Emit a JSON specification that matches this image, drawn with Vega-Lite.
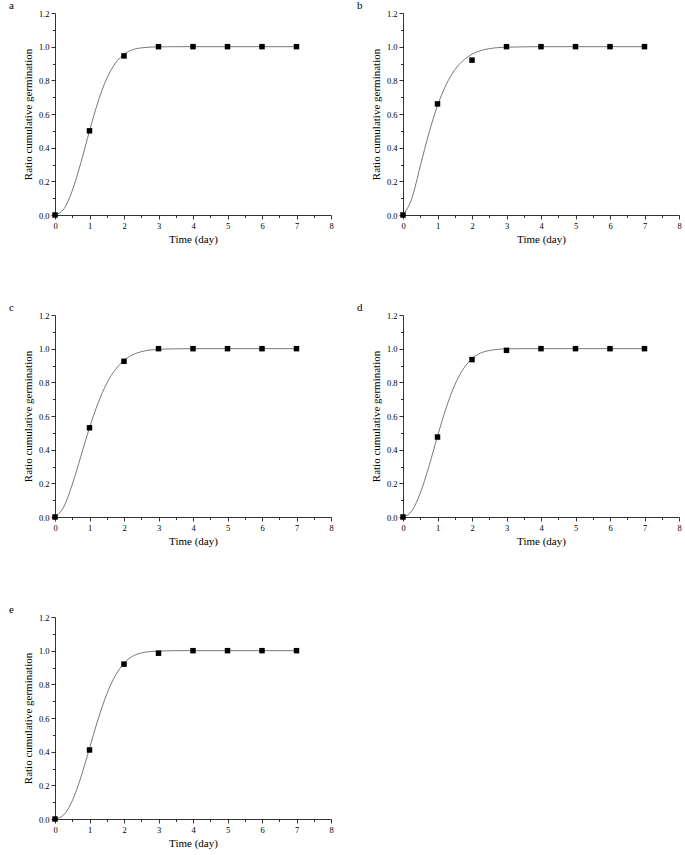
{
  "$schema": "https://vega.github.io/schema/vega-lite/v6.json",
  "padding": {"left": 9, "top": 0, "right": 4, "bottom": 0},
  "background": "white",
  "datasets": {
    "points": [
      {"panel": "a", "day": 0, "ratio": 0}, {"panel": "a", "day": 1, "ratio": 0.5}, {"panel": "a", "day": 2, "ratio": 0.945}, {"panel": "a", "day": 3, "ratio": 1}, {"panel": "a", "day": 4, "ratio": 1}, {"panel": "a", "day": 5, "ratio": 1}, {"panel": "a", "day": 6, "ratio": 1}, {"panel": "a", "day": 7, "ratio": 1},
      {"panel": "b", "day": 0, "ratio": 0}, {"panel": "b", "day": 1, "ratio": 0.66}, {"panel": "b", "day": 2, "ratio": 0.92}, {"panel": "b", "day": 3, "ratio": 1}, {"panel": "b", "day": 4, "ratio": 1}, {"panel": "b", "day": 5, "ratio": 1}, {"panel": "b", "day": 6, "ratio": 1}, {"panel": "b", "day": 7, "ratio": 1},
      {"panel": "c", "day": 0, "ratio": 0}, {"panel": "c", "day": 1, "ratio": 0.53}, {"panel": "c", "day": 2, "ratio": 0.925}, {"panel": "c", "day": 3, "ratio": 1}, {"panel": "c", "day": 4, "ratio": 1}, {"panel": "c", "day": 5, "ratio": 1}, {"panel": "c", "day": 6, "ratio": 1}, {"panel": "c", "day": 7, "ratio": 1},
      {"panel": "d", "day": 0, "ratio": 0}, {"panel": "d", "day": 1, "ratio": 0.475}, {"panel": "d", "day": 2, "ratio": 0.935}, {"panel": "d", "day": 3, "ratio": 0.99}, {"panel": "d", "day": 4, "ratio": 1}, {"panel": "d", "day": 5, "ratio": 1}, {"panel": "d", "day": 6, "ratio": 1}, {"panel": "d", "day": 7, "ratio": 1},
      {"panel": "e", "day": 0, "ratio": 0}, {"panel": "e", "day": 1, "ratio": 0.41}, {"panel": "e", "day": 2, "ratio": 0.92}, {"panel": "e", "day": 3, "ratio": 0.985}, {"panel": "e", "day": 4, "ratio": 1}, {"panel": "e", "day": 5, "ratio": 1}, {"panel": "e", "day": 6, "ratio": 1}, {"panel": "e", "day": 7, "ratio": 1}
    ],
    "curve": [
      {"panel": "a", "t": 0, "ratio": 0}, {"panel": "a", "t": 0.25, "ratio": 0.034}, {"panel": "a", "t": 0.5, "ratio": 0.144}, {"panel": "a", "t": 0.75, "ratio": 0.311}, {"panel": "a", "t": 1, "ratio": 0.5}, {"panel": "a", "t": 1.25, "ratio": 0.674}, {"panel": "a", "t": 1.5, "ratio": 0.811}, {"panel": "a", "t": 1.75, "ratio": 0.902}, {"panel": "a", "t": 2, "ratio": 0.955}, {"panel": "a", "t": 2.5, "ratio": 0.993}, {"panel": "a", "t": 3, "ratio": 0.999}, {"panel": "a", "t": 3.5, "ratio": 1}, {"panel": "a", "t": 4, "ratio": 1}, {"panel": "a", "t": 5, "ratio": 1}, {"panel": "a", "t": 6, "ratio": 1}, {"panel": "a", "t": 7, "ratio": 1},
      {"panel": "b", "t": 0, "ratio": 0}, {"panel": "b", "t": 0.25, "ratio": 0.095}, {"panel": "b", "t": 0.5, "ratio": 0.29}, {"panel": "b", "t": 0.75, "ratio": 0.485}, {"panel": "b", "t": 1, "ratio": 0.65}, {"panel": "b", "t": 1.25, "ratio": 0.774}, {"panel": "b", "t": 1.5, "ratio": 0.862}, {"panel": "b", "t": 1.75, "ratio": 0.919}, {"panel": "b", "t": 2, "ratio": 0.955}, {"panel": "b", "t": 2.5, "ratio": 0.988}, {"panel": "b", "t": 3, "ratio": 0.997}, {"panel": "b", "t": 3.5, "ratio": 0.999}, {"panel": "b", "t": 4, "ratio": 1}, {"panel": "b", "t": 5, "ratio": 1}, {"panel": "b", "t": 6, "ratio": 1}, {"panel": "b", "t": 7, "ratio": 1},
      {"panel": "c", "t": 0, "ratio": 0}, {"panel": "c", "t": 0.25, "ratio": 0.059}, {"panel": "c", "t": 0.5, "ratio": 0.193}, {"panel": "c", "t": 0.75, "ratio": 0.361}, {"panel": "c", "t": 1, "ratio": 0.53}, {"panel": "c", "t": 1.25, "ratio": 0.678}, {"panel": "c", "t": 1.5, "ratio": 0.794}, {"panel": "c", "t": 1.75, "ratio": 0.876}, {"panel": "c", "t": 2, "ratio": 0.93}, {"panel": "c", "t": 2.5, "ratio": 0.982}, {"panel": "c", "t": 3, "ratio": 0.996}, {"panel": "c", "t": 3.5, "ratio": 0.999}, {"panel": "c", "t": 4, "ratio": 1}, {"panel": "c", "t": 5, "ratio": 1}, {"panel": "c", "t": 6, "ratio": 1}, {"panel": "c", "t": 7, "ratio": 1},
      {"panel": "d", "t": 0, "ratio": 0}, {"panel": "d", "t": 0.25, "ratio": 0.035}, {"panel": "d", "t": 0.5, "ratio": 0.142}, {"panel": "d", "t": 0.75, "ratio": 0.3}, {"panel": "d", "t": 1, "ratio": 0.48}, {"panel": "d", "t": 1.25, "ratio": 0.648}, {"panel": "d", "t": 1.5, "ratio": 0.784}, {"panel": "d", "t": 1.75, "ratio": 0.88}, {"panel": "d", "t": 2, "ratio": 0.94}, {"panel": "d", "t": 2.5, "ratio": 0.989}, {"panel": "d", "t": 3, "ratio": 0.999}, {"panel": "d", "t": 3.5, "ratio": 1}, {"panel": "d", "t": 4, "ratio": 1}, {"panel": "d", "t": 5, "ratio": 1}, {"panel": "d", "t": 6, "ratio": 1}, {"panel": "d", "t": 7, "ratio": 1},
      {"panel": "e", "t": 0, "ratio": 0}, {"panel": "e", "t": 0.25, "ratio": 0.024}, {"panel": "e", "t": 0.5, "ratio": 0.108}, {"panel": "e", "t": 0.75, "ratio": 0.248}, {"panel": "e", "t": 1, "ratio": 0.42}, {"panel": "e", "t": 1.25, "ratio": 0.593}, {"panel": "e", "t": 1.5, "ratio": 0.742}, {"panel": "e", "t": 1.75, "ratio": 0.853}, {"panel": "e", "t": 2, "ratio": 0.925}, {"panel": "e", "t": 2.5, "ratio": 0.986}, {"panel": "e", "t": 3, "ratio": 0.998}, {"panel": "e", "t": 3.5, "ratio": 1}, {"panel": "e", "t": 4, "ratio": 1}, {"panel": "e", "t": 5, "ratio": 1}, {"panel": "e", "t": 6, "ratio": 1}, {"panel": "e", "t": 7, "ratio": 1}
    ]
  },
  "bounds": "flush",
  "columns": 2,
  "spacing": {"row": 100, "column": 72},
  "concat": [
    {
      "title": "a", "width": 276, "height": 202,
      "layer": [
        {"data": {"name": "curve"}, "transform": [{"filter": "datum.panel === 'a'"}],
         "mark": {"type": "line", "interpolate": "monotone", "color": "#555555", "strokeWidth": 0.8},
         "encoding": {"x": {"field": "t", "type": "quantitative", "scale": {"domain": [0, 8], "nice": false}, "axis": {"title": "Time (day)", "tickCount": 40, "values": [0, 0.5, 1, 1.5, 2, 2.5, 3, 3.5, 4, 4.5, 5, 5.5, 6, 6.5, 7, 7.5, 8], "labelExpr": "datum.value % 1 === 0 ? format(datum.value, 'd') : ''", "tickSize": {"condition": {"test": "datum.value % 1 === 0", "value": 4}, "value": 2.5}}},
                      "y": {"field": "ratio", "type": "quantitative", "scale": {"domain": [0, 1.2], "nice": false}, "axis": {"title": "Ratio cumulative germination", "tickCount": 40, "values": [0, 0.1, 0.2, 0.3, 0.4, 0.5, 0.6, 0.7, 0.8, 0.9, 1, 1.1, 1.2], "labelExpr": "round(datum.value * 10) % 2 === 0 ? format(datum.value, '.1f') : ''", "tickSize": {"condition": {"test": "round(datum.value * 10) % 2 === 0", "value": 4}, "value": 2.5}}}}},
        {"data": {"name": "points"}, "transform": [{"filter": "datum.panel === 'a'"}],
         "mark": {"type": "square", "color": "black", "opacity": 1, "size": 30},
         "encoding": {"x": {"field": "day", "type": "quantitative"}, "y": {"field": "ratio", "type": "quantitative"}}}
      ]
    },
    {
      "title": "b", "width": 276, "height": 202,
      "layer": [
        {"data": {"name": "curve"}, "transform": [{"filter": "datum.panel === 'b'"}],
         "mark": {"type": "line", "interpolate": "monotone", "color": "#555555", "strokeWidth": 0.8},
         "encoding": {"x": {"field": "t", "type": "quantitative", "scale": {"domain": [0, 8], "nice": false}, "axis": {"title": "Time (day)", "tickCount": 40, "values": [0, 0.5, 1, 1.5, 2, 2.5, 3, 3.5, 4, 4.5, 5, 5.5, 6, 6.5, 7, 7.5, 8], "labelExpr": "datum.value % 1 === 0 ? format(datum.value, 'd') : ''", "tickSize": {"condition": {"test": "datum.value % 1 === 0", "value": 4}, "value": 2.5}}},
                      "y": {"field": "ratio", "type": "quantitative", "scale": {"domain": [0, 1.2], "nice": false}, "axis": {"title": "Ratio cumulative germination", "tickCount": 40, "values": [0, 0.1, 0.2, 0.3, 0.4, 0.5, 0.6, 0.7, 0.8, 0.9, 1, 1.1, 1.2], "labelExpr": "round(datum.value * 10) % 2 === 0 ? format(datum.value, '.1f') : ''", "tickSize": {"condition": {"test": "round(datum.value * 10) % 2 === 0", "value": 4}, "value": 2.5}}}}},
        {"data": {"name": "points"}, "transform": [{"filter": "datum.panel === 'b'"}],
         "mark": {"type": "square", "color": "black", "opacity": 1, "size": 30},
         "encoding": {"x": {"field": "day", "type": "quantitative"}, "y": {"field": "ratio", "type": "quantitative"}}}
      ]
    },
    {
      "title": "c", "width": 276, "height": 202,
      "layer": [
        {"data": {"name": "curve"}, "transform": [{"filter": "datum.panel === 'c'"}],
         "mark": {"type": "line", "interpolate": "monotone", "color": "#555555", "strokeWidth": 0.8},
         "encoding": {"x": {"field": "t", "type": "quantitative", "scale": {"domain": [0, 8], "nice": false}, "axis": {"title": "Time (day)", "tickCount": 40, "values": [0, 0.5, 1, 1.5, 2, 2.5, 3, 3.5, 4, 4.5, 5, 5.5, 6, 6.5, 7, 7.5, 8], "labelExpr": "datum.value % 1 === 0 ? format(datum.value, 'd') : ''", "tickSize": {"condition": {"test": "datum.value % 1 === 0", "value": 4}, "value": 2.5}}},
                      "y": {"field": "ratio", "type": "quantitative", "scale": {"domain": [0, 1.2], "nice": false}, "axis": {"title": "Ratio cumulative germination", "tickCount": 40, "values": [0, 0.1, 0.2, 0.3, 0.4, 0.5, 0.6, 0.7, 0.8, 0.9, 1, 1.1, 1.2], "labelExpr": "round(datum.value * 10) % 2 === 0 ? format(datum.value, '.1f') : ''", "tickSize": {"condition": {"test": "round(datum.value * 10) % 2 === 0", "value": 4}, "value": 2.5}}}}},
        {"data": {"name": "points"}, "transform": [{"filter": "datum.panel === 'c'"}],
         "mark": {"type": "square", "color": "black", "opacity": 1, "size": 30},
         "encoding": {"x": {"field": "day", "type": "quantitative"}, "y": {"field": "ratio", "type": "quantitative"}}}
      ]
    },
    {
      "title": "d", "width": 276, "height": 202,
      "layer": [
        {"data": {"name": "curve"}, "transform": [{"filter": "datum.panel === 'd'"}],
         "mark": {"type": "line", "interpolate": "monotone", "color": "#555555", "strokeWidth": 0.8},
         "encoding": {"x": {"field": "t", "type": "quantitative", "scale": {"domain": [0, 8], "nice": false}, "axis": {"title": "Time (day)", "tickCount": 40, "values": [0, 0.5, 1, 1.5, 2, 2.5, 3, 3.5, 4, 4.5, 5, 5.5, 6, 6.5, 7, 7.5, 8], "labelExpr": "datum.value % 1 === 0 ? format(datum.value, 'd') : ''", "tickSize": {"condition": {"test": "datum.value % 1 === 0", "value": 4}, "value": 2.5}}},
                      "y": {"field": "ratio", "type": "quantitative", "scale": {"domain": [0, 1.2], "nice": false}, "axis": {"title": "Ratio cumulative germination", "tickCount": 40, "values": [0, 0.1, 0.2, 0.3, 0.4, 0.5, 0.6, 0.7, 0.8, 0.9, 1, 1.1, 1.2], "labelExpr": "round(datum.value * 10) % 2 === 0 ? format(datum.value, '.1f') : ''", "tickSize": {"condition": {"test": "round(datum.value * 10) % 2 === 0", "value": 4}, "value": 2.5}}}}},
        {"data": {"name": "points"}, "transform": [{"filter": "datum.panel === 'd'"}],
         "mark": {"type": "square", "color": "black", "opacity": 1, "size": 30},
         "encoding": {"x": {"field": "day", "type": "quantitative"}, "y": {"field": "ratio", "type": "quantitative"}}}
      ]
    },
    {
      "title": "e", "width": 276, "height": 202,
      "layer": [
        {"data": {"name": "curve"}, "transform": [{"filter": "datum.panel === 'e'"}],
         "mark": {"type": "line", "interpolate": "monotone", "color": "#555555", "strokeWidth": 0.8},
         "encoding": {"x": {"field": "t", "type": "quantitative", "scale": {"domain": [0, 8], "nice": false}, "axis": {"title": "Time (day)", "tickCount": 40, "values": [0, 0.5, 1, 1.5, 2, 2.5, 3, 3.5, 4, 4.5, 5, 5.5, 6, 6.5, 7, 7.5, 8], "labelExpr": "datum.value % 1 === 0 ? format(datum.value, 'd') : ''", "tickSize": {"condition": {"test": "datum.value % 1 === 0", "value": 4}, "value": 2.5}}},
                      "y": {"field": "ratio", "type": "quantitative", "scale": {"domain": [0, 1.2], "nice": false}, "axis": {"title": "Ratio cumulative germination", "tickCount": 40, "values": [0, 0.1, 0.2, 0.3, 0.4, 0.5, 0.6, 0.7, 0.8, 0.9, 1, 1.1, 1.2], "labelExpr": "round(datum.value * 10) % 2 === 0 ? format(datum.value, '.1f') : ''", "tickSize": {"condition": {"test": "round(datum.value * 10) % 2 === 0", "value": 4}, "value": 2.5}}}}},
        {"data": {"name": "points"}, "transform": [{"filter": "datum.panel === 'e'"}],
         "mark": {"type": "square", "color": "black", "opacity": 1, "size": 30},
         "encoding": {"x": {"field": "day", "type": "quantitative"}, "y": {"field": "ratio", "type": "quantitative"}}}
      ]
    }
  ],
  "config": {
    "view": {"stroke": null},
    "font": "Liberation Serif",
    "title": {"font": "Liberation Serif", "fontSize": 11, "fontWeight": "normal", "color": "black", "anchor": "start", "frame": "group", "offset": 2, "dx": -46, "dy": 4},
    "axis": {"grid": false, "domainColor": "black", "domainWidth": 0.8, "tickColor": "black", "tickWidth": 0.8, "labelColor": "black", "titleColor": "black", "labelFont": "Liberation Serif", "titleFont": "Liberation Serif", "labelFontSize": 8.5, "titleFontSize": 11, "titleFontWeight": "normal", "labelPadding": 2, "labelOverlap": false},
    "axisX": {"titlePadding": 4, "labelFlush": false},
    "axisY": {"titlePadding": 5}
  }
}
